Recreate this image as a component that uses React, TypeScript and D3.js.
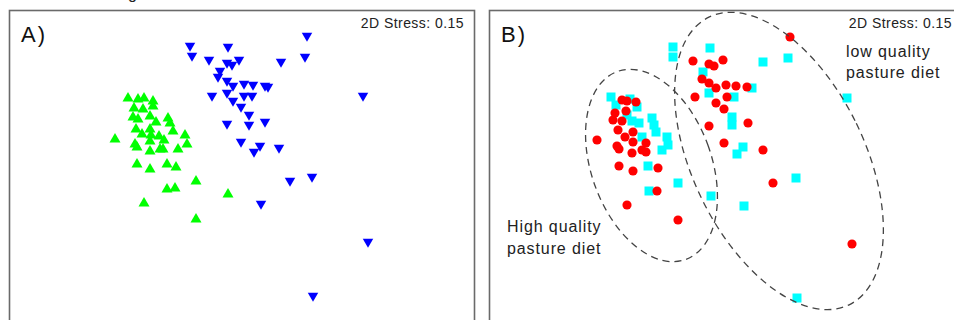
import React, { useEffect, useRef } from "react";
import * as d3 from "d3";

type Pt = [number, number];

// Panel A (NMDS ordination, panel-relative units)
const groupGreen: Pt[] = [
  [119, 87], [129, 88], [135, 87], [144, 90], [125, 97], [134, 98], [144, 95],
  [124, 106], [129, 108], [141, 105], [147, 111], [159, 107], [161, 112], [164, 120],
  [127, 118], [141, 118], [106, 128], [133, 123], [142, 124], [150, 125], [155, 129],
  [141, 130], [176, 124], [178, 133], [126, 133], [128, 136], [141, 140], [151, 138],
  [154, 138], [169, 138], [128, 153], [141, 158], [158, 153], [167, 156], [187, 170],
  [158, 178], [166, 177], [135, 192], [219, 183], [187, 208],
];
const groupBlue: Pt[] = [
  [298, 27], [181, 37], [219, 38], [183, 47], [296, 48], [200, 51], [230, 51],
  [272, 53], [218, 54], [223, 56], [211, 62], [209, 68], [218, 72], [224, 77],
  [235, 75], [244, 76], [256, 77], [259, 78], [203, 87], [218, 84], [224, 92],
  [235, 87], [243, 87], [354, 87], [232, 98], [240, 106], [218, 115], [240, 116],
  [256, 113], [232, 133], [251, 137], [245, 143], [270, 139], [281, 172], [303, 168],
  [252, 195], [359, 233], [304, 287],
];

// Panel B
const groupCyan: Pt[] = [
  [184, 37], [184, 47], [221, 38], [274, 52], [299, 48], [214, 62], [263, 78],
  [220, 83], [245, 87], [358, 88], [122, 87], [127, 95], [141, 89], [148, 97],
  [138, 105], [143, 111], [150, 113], [163, 108], [165, 115], [167, 122], [153, 127],
  [178, 127], [179, 135], [173, 140], [159, 156], [160, 181], [189, 173], [222, 186],
  [255, 196], [307, 168], [308, 288], [243, 107], [243, 115], [254, 137], [248, 144],
];
const groupRed: Pt[] = [
  [301, 27], [204, 51], [220, 54], [225, 56], [234, 50], [213, 69], [220, 73],
  [227, 78], [237, 75], [247, 76], [258, 77], [206, 87], [238, 87], [227, 93],
  [235, 99], [220, 116], [259, 113], [235, 133], [274, 140], [133, 90], [138, 91],
  [147, 92], [137, 101], [126, 103], [124, 110], [133, 111], [129, 120], [144, 122],
  [136, 127], [108, 130], [144, 132], [128, 136], [130, 139], [143, 143], [153, 140],
  [157, 142], [157, 133], [130, 156], [144, 161], [169, 158], [168, 181], [138, 195],
  [189, 210], [284, 173], [363, 234],
];

// ellipses: cx, cy, semi-major, semi-minor, tilt (deg)
const ellipseNames = ["High quality pasture diet", "low quality pasture diet"];
const ellipseParams: [number, number, number, number, number][] = [
  [162.5, 155.5, 100, 60, 20],
  [290, 151, 160, 86, 26],
];

const stressLabel = "2D Stress: 0.15";
const panelLabels = ["A)", "B)"];

const triUp = {
  draw(ctx: any, size: number) {
    const s = Math.sqrt(size);
    ctx.moveTo(0, -s * 0.46);
    ctx.lineTo(s / 2, s * 0.4);
    ctx.lineTo(-s / 2, s * 0.4);
    ctx.closePath();
  },
};
const triDown = {
  draw(ctx: any, size: number) {
    const s = Math.sqrt(size);
    ctx.moveTo(0, s * 0.46);
    ctx.lineTo(s / 2, -s * 0.4);
    ctx.lineTo(-s / 2, -s * 0.4);
    ctx.closePath();
  },
};

const FONT = "'Liberation Sans', Arial, sans-serif";

export default function App() {
  const ref = useRef<SVGSVGElement>(null);
  useEffect(() => {
    const svg = d3.select(ref.current);
    svg.selectAll("*").remove();
    svg.append("rect").attr("width", 954).attr("height", 320).attr("fill", "#fff");

    // caption fragment at top, cut off as in the source figure
    svg.append("text").attr("x", 128).attr("y", -1).attr("font-family", FONT)
      .attr("font-size", 16).attr("fill", "#222").text("g");

    const panelW = 465, panelH = 330;
    const lefts = [9, 489];
    const top = 10;

    lefts.forEach((left, pi) => {
      const x = d3.scaleLinear().domain([0, panelW]).range([left, left + panelW]);
      const y = d3.scaleLinear().domain([0, panelH]).range([top, top + panelH]);
      const g = svg.append("g");
      g.append("rect")
        .attr("x", left + 0.5).attr("y", top + 0.5)
        .attr("width", pi === 0 ? panelW : 600).attr("height", 400)
        .attr("fill", "none").attr("stroke", "#6a6a6a").attr("stroke-width", 1.6);

      g.append("text").attr("x", x(12)).attr("y", y(32)).attr("font-family", FONT)
        .attr("font-size", 22).attr("letter-spacing", 2).attr("fill", "#111").text(panelLabels[pi]);
      g.append("text").attr("x", x(pi === 0 ? 455 : 463)).attr("y", y(18))
        .attr("text-anchor", "end").attr("font-family", FONT)
        .attr("font-size", 14).attr("letter-spacing", 0.45).attr("fill", "#222").text(stressLabel);

      if (pi === 0) {
        g.selectAll("path.g").data(groupGreen).join("path")
          .attr("d", d3.symbol().type(triUp as any).size(121)() as string)
          .attr("transform", (d) => `translate(${x(d[0])},${y(d[1])})`)
          .attr("fill", "#00ff00");
        g.selectAll("path.b").data(groupBlue).join("path")
          .attr("d", d3.symbol().type(triDown as any).size(110)() as string)
          .attr("transform", (d) => `translate(${x(d[0])},${y(d[1])})`)
          .attr("fill", "#0000ff");
      } else {
        g.selectAll("path.c").data(groupCyan).join("path")
          .attr("d", d3.symbol().type(d3.symbolSquare).size(81)() as string)
          .attr("transform", (d) => `translate(${x(d[0])},${y(d[1])})`)
          .attr("fill", "#00ffff");
        g.selectAll("path.r").data(groupRed).join("path")
          .attr("d", d3.symbol().type(d3.symbolCircle).size(66)() as string)
          .attr("transform", (d) => `translate(${x(d[0])},${y(d[1])})`)
          .attr("fill", "#ff0000");
        ellipseParams.forEach((e, i) => {
          g.append("ellipse")
            .attr("cx", 0).attr("cy", 0).attr("rx", e[3]).attr("ry", e[2])
            .attr("transform", `translate(${x(e[0])},${y(e[1])}) rotate(${-e[4]})`)
            .attr("fill", "none").attr("stroke", "#444").attr("stroke-width", 1.3)
            .attr("stroke-dasharray", "7,5")
            .append("title").text(ellipseNames[i]);
        });
        const t1 = g.append("text").attr("font-family", FONT).attr("font-size", 16)
          .attr("letter-spacing", 0.9).attr("fill", "#222");
        t1.append("tspan").attr("x", x(357)).attr("y", y(47)).text("low quality");
        t1.append("tspan").attr("x", x(357)).attr("y", y(68)).text("pasture diet");
        const t2 = g.append("text").attr("font-family", FONT).attr("font-size", 16)
          .attr("letter-spacing", 0.9).attr("fill", "#222");
        t2.append("tspan").attr("x", x(18)).attr("y", y(222)).text("High quality");
        t2.append("tspan").attr("x", x(18)).attr("y", y(244)).text("pasture diet");
      }
    });
  }, []);
  return (
    <div style={{ position: "absolute", left: 0, top: 0 }}>
      <svg ref={ref} width={954} height={320} style={{ display: "block" }} />
    </div>
  );
}
